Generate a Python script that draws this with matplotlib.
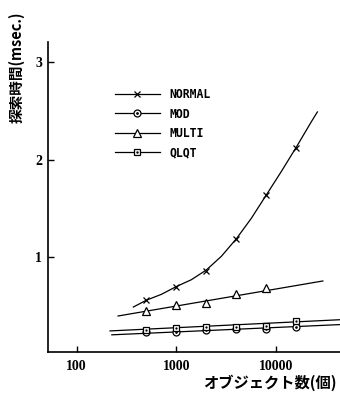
import matplotlib
matplotlib.use("Agg")
import matplotlib.pyplot as plt
from matplotlib.legend_handler import HandlerTuple

# ---- data ----
objects = [500, 1000, 2000, 4000, 8000, 16000]
normal = [0.56, 0.70, 0.86, 1.19, 1.64, 2.12]
multi_x = [500, 1000, 2000, 4000, 8000]
multi = [0.45, 0.51, 0.53, 0.62, 0.68]
mod = [0.235, 0.235, 0.25, 0.26, 0.265, 0.29]
qlqt = [0.25, 0.27, 0.285, 0.29, 0.295, 0.345]

# trend lines drawn in the original
normal_fit_x = [370, 500, 707, 1000, 1414, 2000, 2828, 4000, 5657, 8000, 11314, 16000, 22627, 26000]
normal_fit_y = [0.49, 0.56, 0.62, 0.70, 0.77, 0.87, 1.01, 1.19, 1.40, 1.64, 1.88, 2.13, 2.39, 2.49]
multi_fit_x = [260, 29500]
multi_fit_y = [0.398, 0.757]
mod_fit_x = [225, 44000]
mod_fit_y = [0.205, 0.31]
qlqt_fit_x = [216, 44000]
qlqt_fit_y = [0.245, 0.36]

xticks = [100, 1000, 10000]
xticklabels = ["100", "1000", "10000"]
yticks = [1, 2, 3]
yticklabels = ["1", "2", "3"]
series_names = ["NORMAL", "MOD", "MULTI", "QLQT"]

fig = plt.figure(figsize=(3.4, 3.95), dpi=100)
ax = fig.add_axes([47.5 / 340, 43.3 / 395, (340 - 47.5) / 340, (351.7 - 41.7) / 395])
ax.set_xscale("log")
ax.set_xlim(50.9, 43850)
ax.set_ylim(0.032, 3.21)

lw = 0.9
ax.plot(normal_fit_x, normal_fit_y, color="black", lw=lw)
ax.plot(multi_fit_x, multi_fit_y, color="black", lw=lw)
ax.plot(mod_fit_x, mod_fit_y, color="black", lw=lw)
ax.plot(qlqt_fit_x, qlqt_fit_y, color="black", lw=lw)

mk = dict(color="black", linestyle="none", mew=0.9)
ax.plot(objects, normal, marker="x", ms=5, **mk)
ax.plot(multi_x, multi, marker="^", ms=6, mfc="white", **mk)
ax.plot(objects, mod, marker="o", ms=5, mfc="white", **mk)
ax.plot(objects, mod, marker=".", ms=2, **mk)
ax.plot(objects, qlqt, marker="s", ms=5, mfc="white", **mk)
ax.plot(objects, qlqt, marker=".", ms=1.5, **mk)

# legend handles
h_normal = plt.Line2D([], [], color="black", lw=lw, marker="x", ms=5, mew=0.9)
h_mod = (plt.Line2D([], [], color="black", lw=lw, marker="o", ms=5, mfc="white", mew=0.9),
         plt.Line2D([], [], color="black", lw=0, marker=".", ms=2))
h_multi = plt.Line2D([], [], color="black", lw=lw, marker="^", ms=6, mfc="white", mew=0.9)
h_qlqt = (plt.Line2D([], [], color="black", lw=lw, marker="s", ms=5, mfc="white", mew=0.9),
          plt.Line2D([], [], color="black", lw=0, marker=".", ms=1.5))
leg = ax.legend([h_normal, h_mod, h_multi, h_qlqt], series_names,
                handler_map={tuple: HandlerTuple(ndivide=1, pad=0)},
                loc="upper left", bbox_to_anchor=(0.215, 0.865),
                frameon=False, handlelength=3.9, handletextpad=0.8,
                labelspacing=0.55, borderaxespad=0,
                prop=dict(family="DejaVu Sans Mono", weight="bold", size=8.3))

for s in ["top", "right"]:
    ax.spines[s].set_visible(False)
for s in ["left", "bottom"]:
    ax.spines[s].set_linewidth(1.2)

ax.set_xticks(xticks)
ax.set_xticklabels(xticklabels)
ax.xaxis.set_minor_locator(matplotlib.ticker.NullLocator())
ax.set_yticks(yticks)
ax.set_yticklabels(yticklabels)
ax.tick_params(direction="in", length=4, width=1)
ax.tick_params(axis="x", pad=6)
ax.tick_params(axis="y", pad=4)
for lab in ax.get_xticklabels() + ax.get_yticklabels():
    lab.set_fontfamily("Liberation Serif")
    lab.set_fontsize(10)
    lab.set_fontweight("bold")

fig.text(17 / 340, 1 - 67 / 395, "探索時間(msec.)", rotation=90, ha="center", va="center",
         family=["Noto Sans CJK JP", "DejaVu Sans"], fontsize=10.5, fontweight="bold")
fig.text(337 / 340, 1 - 383 / 395, "オブジェクト数(個)", ha="right", va="center",
         family=["Noto Sans CJK JP", "DejaVu Sans"], fontsize=11, fontweight="bold")

fig.savefig("out.png", dpi=100)
